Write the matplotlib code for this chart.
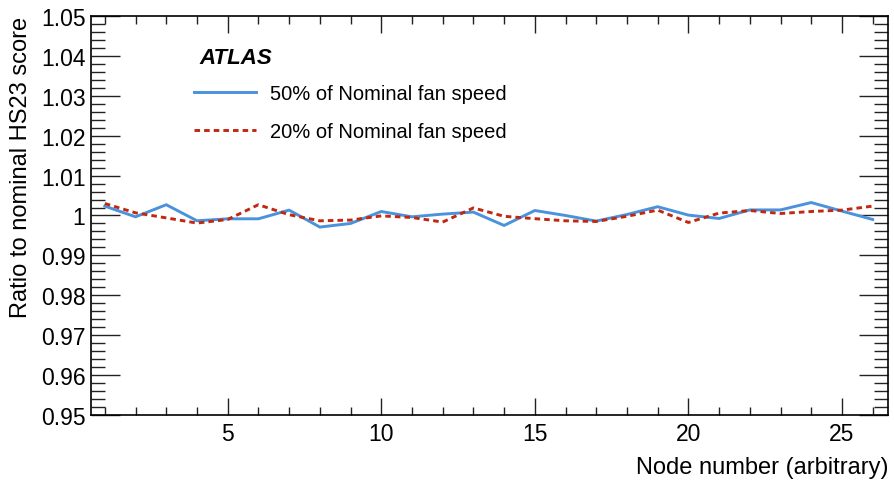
import numpy as np
import matplotlib.pyplot as plt
from matplotlib.ticker import MultipleLocator, FuncFormatter

plt.rcParams['font.family'] = ['Liberation Sans', 'DejaVu Sans']

# === DATEN ===
nodes = np.arange(1, 27)
ratio_50 = [1.00235, 0.99967, 1.0027, 0.99868, 0.99917, 0.99917, 1.00135, 0.9971,
            0.998, 1.001, 0.99967, 1.00035, 1.00085, 0.9975, 1.00125, 1.0,
            0.9986, 1.00025, 1.0022, 1.0001, 0.99925, 1.0014, 1.0014, 1.00325,
            1.0011, 0.999]
ratio_20 = [1.003, 1.00067, 0.9994, 0.9981, 0.999, 1.0027, 1.0002, 0.99867,
            0.99885, 0.9999, 0.9995, 0.99835, 1.0019, 0.9998, 0.9992, 0.99867,
            0.9985, 0.9998, 1.00135, 0.99825, 1.0006, 1.00125, 1.0005, 1.001,
            1.00135, 1.00235]
labels = ['50% of Nominal fan speed', '20% of Nominal fan speed']

# === PLOT ===
fig = plt.figure(figsize=(8.94, 4.81), dpi=100)
ax = fig.add_axes([0.1018, 0.1351, 0.8915, 0.8296])

ax.plot(nodes, ratio_50, color='#4a92dc', lw=2.1, label=labels[0])
ax.plot(nodes, ratio_20, color='#c0280f', lw=2.1, linestyle=(0, (1.9, 1.4)), label=labels[1])

ax.set_xlim(0.55, 26.5)
ax.set_ylim(0.95, 1.05)

ax.xaxis.set_major_locator(MultipleLocator(5))
ax.xaxis.set_minor_locator(MultipleLocator(1))
ax.yaxis.set_major_locator(MultipleLocator(0.01))
ax.yaxis.set_minor_locator(MultipleLocator(0.002))
ax.yaxis.set_major_formatter(FuncFormatter(lambda v, p: '%g' % round(v, 4)))

ax.tick_params(which='both', direction='in', top=True, right=True, labelsize=16.5, width=1, color='#222222')
ax.tick_params(axis='x', which='major', length=12, pad=5)
ax.tick_params(axis='x', which='minor', length=6)
ax.tick_params(axis='y', which='major', length=21, pad=4)
ax.tick_params(axis='y', which='minor', length=10)
for s in ax.spines.values():
    s.set_linewidth(1.2)

ax.set_xlabel('Node number (arbitrary)', fontsize=17, loc='right', labelpad=8)
ax.set_ylabel('Ratio to nominal HS23 score', fontsize=17, loc='top', labelpad=6)

ax.text(0.1355, 0.897, 'ATLAS', transform=ax.transAxes, fontsize=16,
        fontweight='bold', fontstyle='italic', va='center')
ax.legend(loc='upper left', bbox_to_anchor=(0.129, 0.83), frameon=False, fontsize=14.5,
          handlelength=3.1, handletextpad=0.7, labelspacing=0.95, borderpad=0, borderaxespad=0)

plt.savefig('out.png', dpi=100)
